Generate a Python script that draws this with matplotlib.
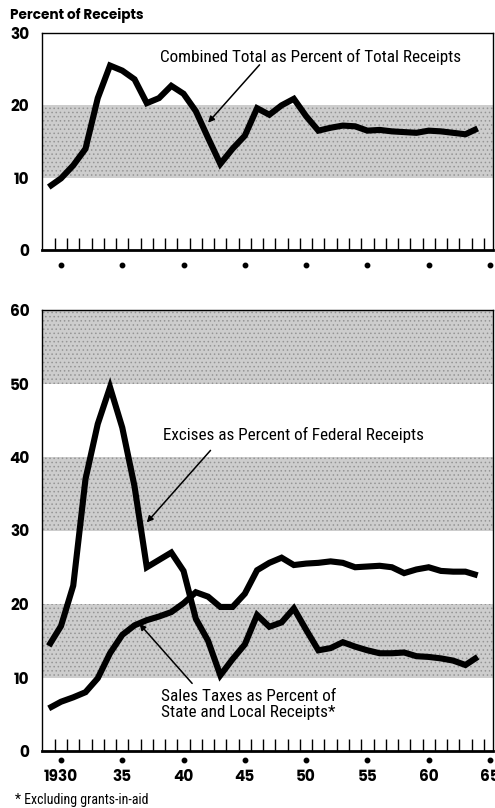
import matplotlib
matplotlib.use("Agg")
import matplotlib.pyplot as plt
import matplotlib.transforms as mtransforms
from matplotlib import font_manager as fm

years = list(range(1929, 1965))

combined_total = [8.7, 9.9, 11.7, 14.0, 21.0, 25.5, 24.8, 23.6, 20.3, 21.0,
                  22.7, 21.6, 19.2, 15.5, 11.9, 14.0, 15.8, 19.6, 18.7, 20.0,
                  20.9, 18.5, 16.5, 16.9, 17.2, 17.1, 16.5, 16.6, 16.4, 16.3,
                  16.2, 16.5, 16.4, 16.2, 16.0, 16.8]

excises_federal = [14.3, 17.0, 22.5, 37.0, 44.5, 49.5, 44.0, 36.0, 25.0, 26.0,
                   27.0, 24.5, 18.0, 15.0, 10.3, 12.5, 14.5, 18.5, 16.9, 17.5,
                   19.4, 16.5, 13.7, 14.0, 14.8, 14.2, 13.7, 13.3, 13.3, 13.4,
                   12.9, 12.8, 12.6, 12.3, 11.7, 12.8]

sales_state_local = [5.8, 6.7, 7.3, 8.0, 9.9, 13.3, 15.8, 17.1, 17.8, 18.3,
                     18.9, 20.1, 21.6, 21.0, 19.6, 19.6, 21.4, 24.6, 25.6, 26.3,
                     25.3, 25.5, 25.6, 25.8, 25.6, 25.0, 25.1, 25.2, 25.0, 24.2,
                     24.7, 25.0, 24.5, 24.4, 24.4, 23.9]

major_years = [1930, 1935, 1940, 1945, 1950, 1955, 1960, 1965]
major_labels = ["1930", "35", "40", "45", "50", "55", "60", "65"]
top_yticks = [0, 10, 20, 30]
bottom_yticks = [0, 10, 20, 30, 40, 50, 60]
top_bands = [(10, 20)]
bottom_bands = [(10, 20), (30, 40), (50, 60)]

fonts = fm.fontManager.ttflist
available = set(f.name for f in fonts)


def has_bold(name):
    for f in fonts:
        if f.name == name:
            w = f.weight
            if isinstance(w, str):
                if 'bold' in w.lower() or 'black' in w.lower() or 'heavy' in w.lower():
                    return True
            elif w >= 700:
                return True
    return False


def pick(prefs, bold=False):
    for p in prefs:
        if p in available and (not bold or has_bold(p)):
            return [p, 'DejaVu Sans']
    return ['DejaVu Sans']


NARROW = pick(['Roboto Condensed', 'Archivo Narrow', 'PT Sans Narrow',
               'Liberation Sans Narrow', 'Open Sans Condensed', 'Pathway Gothic One'])
BOLD = pick(['League Spartan', 'Spartan', 'Jost', 'Poppins', 'Montserrat', 'DejaVu Sans'], bold=True)

plt.rcParams['hatch.linewidth'] = 0.6

W, H = 495, 808
fig = plt.figure(figsize=(W / 100, H / 100), dpi=100)

xlim = (1928.45, 1965.25)
left = 42 / W
width = 451 / W
ax1 = fig.add_axes([left, 1 - 250 / H, width, 217 / H])
ax2 = fig.add_axes([left, 1 - 751 / H, width, 441 / H])

minor_ticks = [y - 0.5 for y in range(1930, 1966)]

for ax, bands, yt, ylim, dot_off in [(ax1, top_bands, top_yticks, (0, 30), 15),
                                     (ax2, bottom_bands, bottom_yticks, (0, 60), 9)]:
    for lo, hi in bands:
        ax.axhspan(lo, hi, facecolor='#cdcdcd', edgecolor='#959595', hatch='....',
                   lw=0, zorder=0)
    ax.set_xlim(*xlim)
    ax.set_ylim(*ylim)
    ax.set_yticks(yt)
    ax.set_yticklabels([str(v) for v in yt], fontfamily=BOLD, fontweight='bold', fontsize=11)
    ax.tick_params(axis='y', length=0, pad=9)
    ax.set_xticks(minor_ticks, minor=True)
    ax.set_xticks(major_years)
    ax.tick_params(axis='x', which='minor', direction='in', length=9, width=1.0, color='black')
    ax.tick_params(axis='x', which='major', length=0, pad=13)
    for s in ['left', 'right', 'top']:
        ax.spines[s].set_linewidth(1.0)
    ax.spines['bottom'].set_linewidth(2.0)
    trans = mtransforms.blended_transform_factory(ax.transData, ax.transAxes)
    hpx = ax.get_position().height * H
    ax.plot(major_years, [-dot_off / hpx] * len(major_years), 'o', color='black',
            ms=3.2, transform=trans, clip_on=False)

ax1.set_xticklabels([])
ax2.set_xticklabels(major_labels, fontfamily=BOLD, fontweight='bold', fontsize=11)

line_kw = dict(color='black', lw=4.4, solid_joinstyle='miter', solid_capstyle='butt', zorder=3)
ax1.plot(years, combined_total, **line_kw)
ax2.plot(years, excises_federal, **line_kw)
ax2.plot(years, sales_state_local, **line_kw)

arrow_kw = dict(arrowstyle='-|>', lw=1.1, color='black', mutation_scale=9, shrinkA=0, shrinkB=0)

ax1.text(1938.07, 26.7, 'Combined Total as Percent of Total Receipts', fontfamily=NARROW,
         fontsize=12.3, va='center', ha='left')
ax1.annotate('', xy=(1942.0, 17.6), xytext=(1946.2, 25.6), arrowprops=arrow_kw)

ax2.text(1938.3, 43.0, 'Excises as Percent of Federal Receipts', fontfamily=NARROW,
         fontsize=12.3, va='center', ha='left')
ax2.annotate('', xy=(1937.0, 31.1), xytext=(1942.2, 40.9), arrowprops=arrow_kw)

ax2.text(1938.2, 6.3, 'Sales Taxes as Percent of\nState and Local Receipts*', fontfamily=NARROW,
         fontsize=12.3, va='center', ha='left', linespacing=1.05)
ax2.annotate('', xy=(1936.4, 17.3), xytext=(1940.7, 9.2), arrowprops=arrow_kw)

fig.text(10 / W, 1 - 15 / H, 'Percent of Receipts', fontfamily=BOLD, fontweight='bold',
         fontsize=9.8, va='center', ha='left')
fig.text(15 / W, 1 - 800 / H, '* Excluding grants-in-aid', fontfamily=NARROW,
         fontsize=10, va='center', ha='left')

fig.savefig('out.png', dpi=100)
